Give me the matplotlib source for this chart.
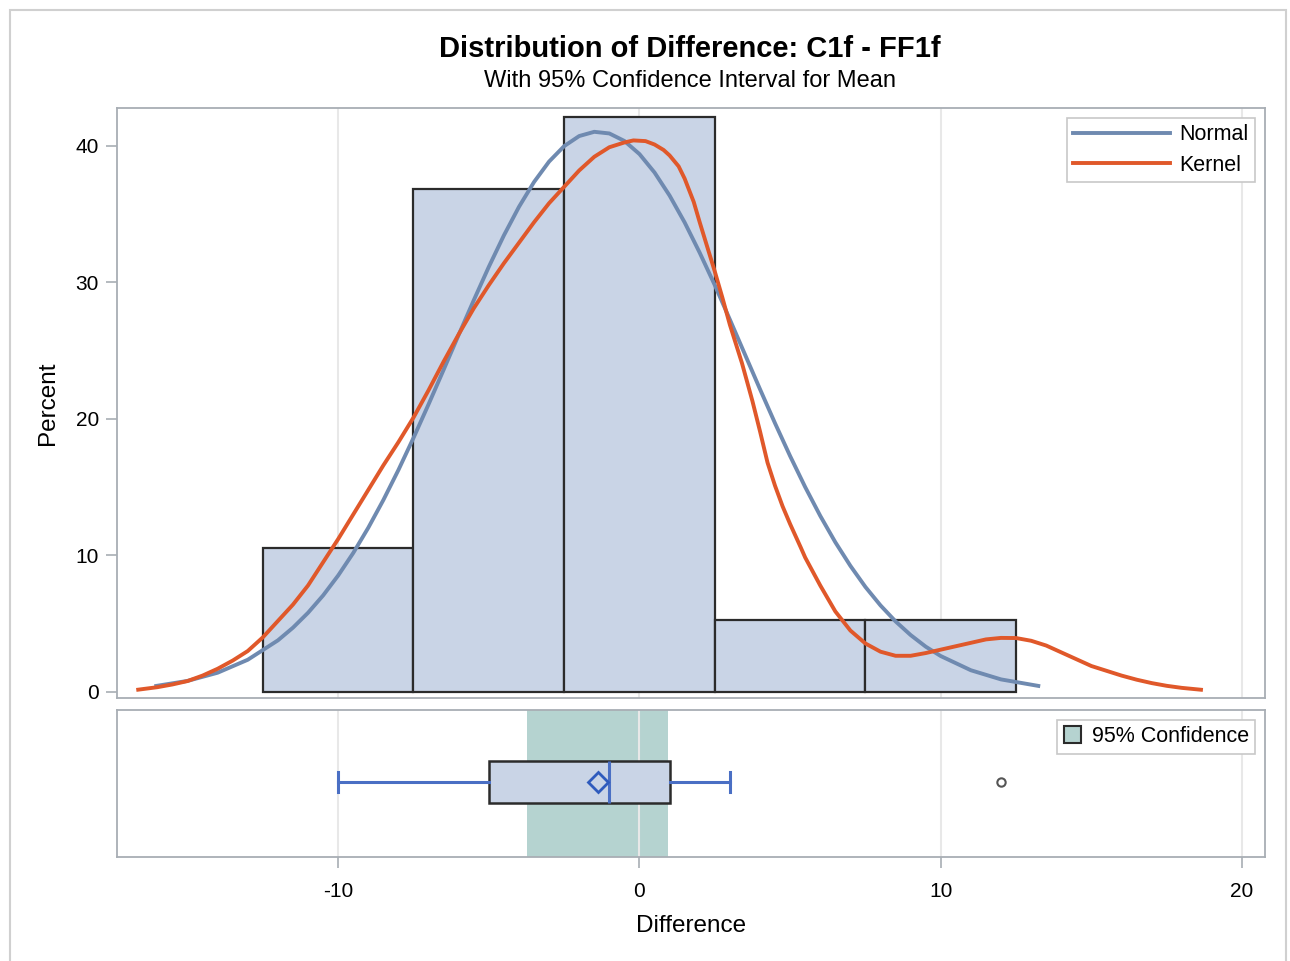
import numpy as np
import matplotlib
matplotlib.use("Agg")
import matplotlib.pyplot as plt
from matplotlib.lines import Line2D
from matplotlib.patches import Patch, Rectangle

# histogram (bin midpoints, percent)
bin_mid = [-10, -5, 0, 5, 10]
bin_pct = [10.53, 36.84, 42.11, 5.26, 5.26]
bin_w = 5

# normal curve
norm_x = [-16.1, -15, -14, -13, -12, -11.5, -11, -10.5, -10, -9.5, -9, -8.5, -8, -7.5,
          -7, -6.5, -6, -5.5, -5, -4.5, -4, -3.5, -3, -2.5, -2, -1.5, -1, -0.5, 0, 0.5,
          1, 1.5, 2, 2.5, 3, 3.5, 4, 4.5, 5, 5.5, 6, 6.5, 7, 7.5, 8, 8.5, 9, 9.5, 10,
          11, 12, 13.3]
norm_y = [0.42, 0.81, 1.41, 2.36, 3.78, 4.71, 5.80, 7.07, 8.53, 10.18, 12.03, 14.06,
          16.26, 18.61, 21.07, 23.60, 26.16, 28.69, 31.14, 33.44, 35.53, 37.35, 38.85,
          39.98, 40.72, 41.03, 40.91, 40.36, 39.40, 38.05, 36.36, 34.39, 32.17, 29.80,
          27.28, 24.73, 22.18, 19.68, 17.28, 15.01, 12.90, 10.97, 9.24, 7.69, 6.34, 5.17,
          4.17, 3.32, 2.63, 1.59, 0.92, 0.42]

# kernel curve
kern_x = [-16.7, -16, -15.5, -15, -14.5, -14, -13.5, -13, -12.5, -12, -11.5, -11, -10.5,
          -10, -9.5, -9, -8.5, -8, -7.5, -7, -6.5, -6, -5.5, -5, -4.5, -4, -3.5, -3,
          -2.5, -2, -1.5, -1, -0.5, -0.2, 0.2, 0.5, 0.8, 1, 1.3, 1.5, 1.8, 2, 2.25, 2.5,
          2.75, 3, 3.4, 3.75, 4, 4.25, 4.5, 4.75, 5, 5.35, 5.5, 6, 6.5, 7, 7.5, 8, 8.5, 9,
          9.5, 10, 10.5, 11, 11.5, 12, 12.5, 13, 13.5, 14, 14.5, 15, 15.5, 16, 16.5, 17,
          17.5, 18, 18.7]
kern_y = [0.15, 0.35, 0.55, 0.8, 1.2, 1.7, 2.3, 3.0, 4.0, 5.2, 6.4, 7.8, 9.5, 11.2, 13.0,
          14.8, 16.6, 18.3, 20.1, 22.1, 24.2, 26.2, 28.1, 29.8, 31.4, 32.9, 34.4, 35.8,
          37.0, 38.2, 39.2, 39.9, 40.25, 40.4, 40.35, 40.1, 39.7, 39.3, 38.5, 37.6, 35.9,
          34.4, 32.6, 30.8, 28.9, 26.9, 24.1, 21.3, 19.1, 16.8, 15.1, 13.6, 12.3, 10.6,
          9.85, 7.8, 5.9, 4.5, 3.55, 2.95, 2.65, 2.65, 2.85, 3.1, 3.35, 3.6, 3.85, 3.96,
          3.95, 3.75, 3.4, 2.9, 2.4, 1.9, 1.55, 1.2, 0.9, 0.65, 0.45, 0.3, 0.15]

# box plot summary
q1, med, q3 = -5, -1, 1
whis_lo, whis_hi = -10, 3
mean_val = -1.39
outliers = [12]
ci_lo, ci_hi = -3.73, 0.95

xticks = [-10, 0, 10, 20]
yticks = [0, 10, 20, 30, 40]

plt.rcParams['font.family'] = ['Liberation Sans', 'DejaVu Sans']

fig = plt.figure(figsize=(12.9, 9.61), dpi=100)
fig.patches.append(Rectangle((0.008, -0.01), 0.989, 1.0, transform=fig.transFigure,
                             fill=False, edgecolor='#d0d0d0', lw=1.5))

spine_c = '#a8aeb4'
grid_c = '#e8e8e8'
xlim = (-17.34, 20.76)

ax = fig.add_axes([0.0907, 0.2737, 0.8899, 0.614])
ax2 = fig.add_axes([0.0907, 0.1082, 0.8899, 0.153])

for a in (ax, ax2):
    a.set_xlim(*xlim)
    for s in a.spines.values():
        s.set_color(spine_c)
        s.set_linewidth(1.3)
    for t in xticks:
        a.axvline(t, color=grid_c, lw=1.5, zorder=1)

# histogram
ax.bar(bin_mid, bin_pct, width=bin_w, color='#c9d4e6', edgecolor='#2b2b2b', lw=1.6, zorder=2)
ax.plot(norm_x, norm_y, color='#6f8ab0', lw=2.8, zorder=3, solid_capstyle='butt')
ax.plot(kern_x, kern_y, color='#e0582a', lw=2.8, zorder=4, solid_capstyle='butt')
ax.set_ylim(-0.44, 42.78)
ax.set_yticks(yticks)
ax.set_xticks([])
ax.tick_params(axis='y', length=8, width=1.2, color=spine_c, labelsize=15, pad=5)
ax.set_ylabel('Percent', fontsize=17.5, labelpad=12)

leg = ax.legend(handles=[Line2D([], [], color='#6f8ab0', lw=2.8),
                         Line2D([], [], color='#e0582a', lw=2.8)],
                labels=['Normal', 'Kernel'], loc='upper right', fontsize=15.5,
                handlelength=4.5, fancybox=False, framealpha=1, edgecolor='#c8c8c8',
                borderaxespad=0.45, labelspacing=0.45, handletextpad=0.45,
                borderpad=0.3)
leg.get_frame().set_linewidth(1.2)

# box plot panel
ax2.axvspan(ci_lo, ci_hi, color='#b5d3d0', zorder=0.5, lw=0)
stats = [dict(q1=q1, med=med, q3=q3, whislo=whis_lo, whishi=whis_hi,
              mean=mean_val, fliers=outliers)]
ax2.bxp(stats, positions=[0.51], widths=0.29, capwidths=0.14, vert=False,
        showmeans=True, patch_artist=True, manage_ticks=False, zorder=3,
        boxprops=dict(facecolor='#c9d4e6', edgecolor='#2b2b2b', lw=1.8),
        medianprops=dict(color='#4a6fc4', lw=2.2),
        whiskerprops=dict(color='#4a6fc4', lw=2.2),
        capprops=dict(color='#4a6fc4', lw=2.2),
        meanprops=dict(marker='D', markerfacecolor='none', markeredgecolor='#2f5bbd',
                       markeredgewidth=2, markersize=10),
        flierprops=dict(marker='o', markerfacecolor='none', markeredgecolor='#555555',
                        markeredgewidth=1.5, markersize=6))
ax2.set_ylim(0, 1)
ax2.set_yticks([])
ax2.set_xticks(xticks)
ax2.set_xticklabels(['-10', '0', '10', '20'])
ax2.tick_params(axis='x', length=8, width=1.2, color=spine_c, labelsize=15, pad=10)
ax2.set_xlabel('Difference', fontsize=17.5, labelpad=10)

leg2 = ax2.legend(handles=[Patch(facecolor='#b5d3d0', edgecolor='#2b2b2b', lw=1.5)],
                  labels=['95% Confidence'], loc='upper right', fontsize=15.5,
                  handlelength=0.8, handleheight=0.8, fancybox=False, framealpha=1,
                  edgecolor='#c8c8c8', borderaxespad=0.45, handletextpad=0.5,
                  borderpad=0.3)
leg2.get_frame().set_linewidth(1.2)

fig.text(0.535, 0.949, 'Distribution of Difference: C1f - FF1f', ha='center', va='center',
         fontsize=21, fontweight='bold')
fig.text(0.535, 0.916, 'With 95% Confidence Interval for Mean', ha='center', va='center',
         fontsize=17)

fig.savefig('out.png', dpi=100)
